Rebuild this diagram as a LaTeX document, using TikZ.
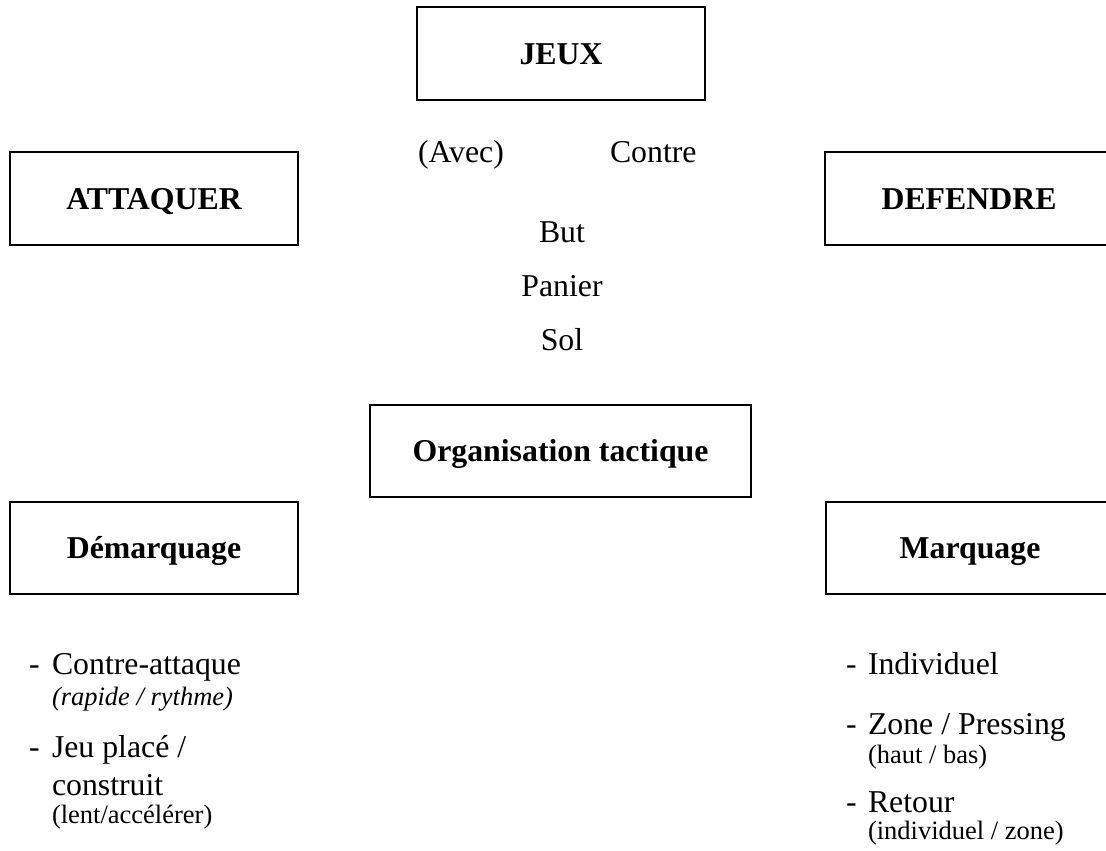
\documentclass[tikz,border=0pt]{standalone}
\usepackage{fontspec}
\setmainfont{Liberation Serif}

\begin{document}
\begin{tikzpicture}[x=0.3774pt,
y=0.3774pt,
every node/.style={
rectangle,
align = center,
anchor=south west,
inner sep=0pt,
outer sep=0pt,
font=\fontsize{12}{14}\selectfont,
},
box/.style={
draw,
line width=0.6pt,
text height=8pt,
text depth=0pt,
font=\fontsize{12}{14}\selectfont\bfseries,
},
item/.style={anchor=base west},
note/.style={anchor=base west,font=\fontsize{10}{12}\selectfont}]

%page
\useasboundingbox (0,0) rectangle (1106,851);
\clip (0,0) rectangle (1106,851);

%Jeux box
\node[box,minimum width=108.7pt,minimum height=35.1pt] (jeux) at (417,751) {JEUX};
\node[box,minimum width=108.7pt,minimum height=35.1pt] (attaquer) at (10,606) {ATTAQUER};
\node[box,minimum width=108.7pt,minimum height=35.1pt] (defendre) at (825,606) {DEFENDRE};

%words in the middle
\node[item] (avec) at (418,688) {(Avec)};
\node[item] (contre) at (610,688) {Contre};
\node[anchor=base] (but) at (562,608) {But};
\node[anchor=base] (panier) at (562,554) {Panier};
\node[anchor=base] (sol) at (562,500) {Sol};

%Organisation box
\node[box,minimum width=143.8pt,minimum height=34.7pt] (orga) at (370,354) {Organisation tactique};
\node[box,minimum width=108.7pt,minimum height=34.7pt] (demarquage) at (10,257) {Démarquage};
\node[box,minimum width=108.7pt,minimum height=34.7pt] (marquage) at (826,257) {Marquage};

%left list
\node[item] (tiretA) at (29,176) {-};
\node[item] (contreattaque) at (52,176) {Contre-attaque};
\node[note] (rapide) at (52,145) {\itshape(rapide / rythme)};
\node[item] (tiretB) at (29,93) {-};
\node[item] (jeuplace) at (52,93) {Jeu placé /};
\node[item] (construit) at (52,55) {construit};
\node[note] (lent) at (52,27) {(lent/accélérer)};

%right list
\node[item] (tiretC) at (846,176) {-};
\node[item] (individuel) at (868,176) {Individuel};
\node[item] (tiretD) at (846,116) {-};
\node[item] (zone) at (868,116) {Zone / Pressing};
\node[note] (hautbas) at (868,87) {(haut / bas)};
\node[item] (tiretE) at (846,38) {-};
\node[item] (retour) at (868,38) {Retour};
\node[note] (indivzone) at (868,11) {(individuel / zone)};
\end{tikzpicture}
\end{document}
